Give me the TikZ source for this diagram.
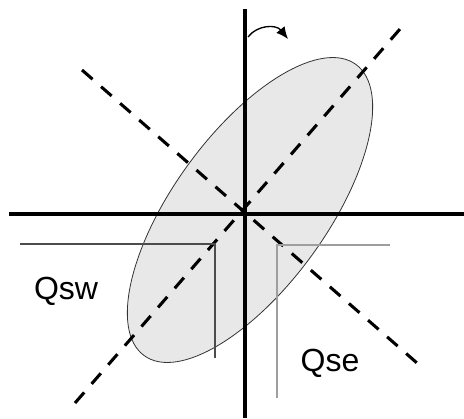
\documentclass[tikz,border=0pt]{standalone}
\usepackage{fontspec}
\setmainfont{Liberation Sans}
\usetikzlibrary{arrows.meta,shapes.geometric}
\tikzset{
  axisline/.style={line width=2.3pt, black},
  diagline/.style={line width=2.3pt, black, dash pattern=on 10.5pt off 8.5pt},
  spreadbox/.style={ellipse, draw=black!80, fill=black!9, line width=0.6pt, inner sep=0pt, rotate=54, minimum width=270pt, minimum height=115pt},
  swline/.style={line width=1.1pt, black!70},
  seline/.style={line width=1.1pt, black!38},
  rotarrow/.style={-{Latex[length=9pt,width=8pt]}, line width=1pt},
  quadlabel/.style={font=\fontsize{24}{28}\selectfont, inner sep=0pt}
}
\begin{document}
\begin{tikzpicture}[x=0.75pt,y=-0.75pt]
\useasboundingbox (0,0) rectangle (464,418);
% covariance ellipse
\node[spreadbox] (spread) at (250,210) {};
% axes
\coordinate (ytop) at (245,9);
\coordinate (ybot) at (245,418);
\coordinate (xleft) at (9,214);
\coordinate (xright) at (464,214);
\draw[axisline] (ytop) -- (ybot);
\draw[axisline] (xleft) -- (xright);
% rotated axes
\coordinate (nw) at (82,70);
\coordinate (se) at (417,363);
\coordinate (sw) at (75,403);
\coordinate (ne) at (400,29);
\draw[diagline] (nw) -- (se);
\draw[diagline] (sw) -- (ne);
% quadrant markers
\coordinate (swa) at (20,244);
\coordinate (swb) at (215,244);
\coordinate (swc) at (215,358);
\draw[swline] (swa) -- (swb) -- (swc);
\coordinate (sea) at (390,245);
\coordinate (seb) at (277,245);
\coordinate (sec) at (277,398);
\draw[seline] (sea) -- (seb) -- (sec);
\node[quadlabel] (qsw) at (66,291) {Qsw};
\node[quadlabel] (qse) at (330,363) {Qse};
% rotation arrow
\coordinate (rotstart) at (248,37);
\coordinate (rotend) at (288,39);
\draw[rotarrow] (rotstart) .. controls (257,25) and (276,24) .. (rotend);
\end{tikzpicture}
\end{document}
